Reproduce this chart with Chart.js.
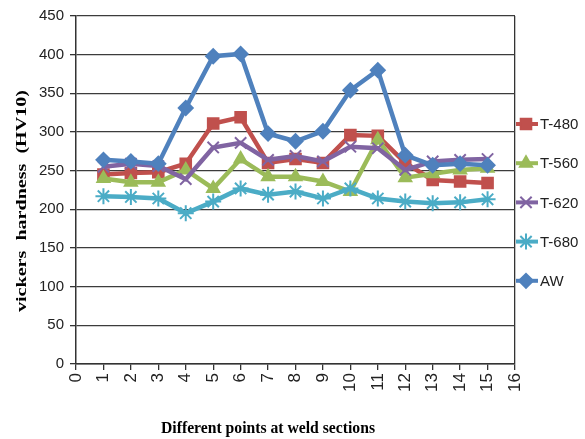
<!DOCTYPE html>
<html>
<head>
<meta charset="utf-8">
<script src="https://cdn.jsdelivr.net/npm/chart.js@4.4.1/dist/chart.umd.min.js"></script>
<style>
  html, body { margin: 0; padding: 0; background: #fff; }
</style>
</head>
<body>
<canvas id="hardnessChart" width="585" height="439"></canvas>
<script>
// hardness profile across the weld
const points = [1, 2, 3, 4, 5, 6, 7, 8, 9, 10, 11, 12, 13, 14, 15];
const t480 = [245, 247, 248, 259, 311, 319, 260, 265, 260, 296, 295, 260, 238, 236, 234];
const t560 = [240, 235, 235, 251, 227, 265, 242, 242, 236, 223, 290, 241, 246, 251, 253];
const t620 = [255, 259, 256, 239, 280, 286, 264, 269, 262, 281, 279, 251, 262, 264, 265];
const t680 = [217, 216, 214, 195, 210, 227, 219, 223, 214, 227, 214, 210, 208, 209, 213];
const aw   = [264, 262, 259, 331, 398, 401, 298, 288, 301, 354, 380, 270, 257, 259, 257];

const xTitle = 'Different points at weld sections';
const yTitle = 'vickers  hardness  (HV10)';

const tickFont = "'Liberation Sans Narrow', 'Liberation Sans', Arial, sans-serif";
const titleFont = "'Liberation Serif', 'Times New Roman', serif";

function series(label, values, color, style, radius) {
    return {
        label: label,
        data: points.map((p, i) => ({ x: p, y: values[i] })),
        borderColor: color,
        backgroundColor: color,
        pointBackgroundColor: color,
        pointBorderColor: color,
        pointStyle: style,
        pointRadius: radius,
        pointBorderWidth: 2,
        borderWidth: 4.5,
        tension: 0,
    };
}

// legend order as in the figure
const legendOrder = [
    series('T-480', t480, '#C0504D', 'rect', 7.5),
    series('T-560', t560, '#9BBB59', 'triangle', 7),
    series('T-620', t620, '#8064A2', 'crossRot', 8),
    series('T-680', t680, '#4BACC6', 'star', 8),
    series('AW', aw, '#4F81BD', 'rectRot', 7),
];

// Chart.js puts dataset 0 on top, AW sits on top in the figure
const datasets = legendOrder.slice().reverse();

// draws axis titles (squeezed like the original) and the right-hand legend
const decorations = {
    id: 'decorations',
    afterDraw(chart) {
        const ctx = chart.ctx;
        ctx.save();
        ctx.fillStyle = '#000';

        // x title
        ctx.font = 'bold 16px ' + titleFont;
        let w = ctx.measureText(xTitle).width;
        ctx.save();
        ctx.translate(268, 433);
        ctx.scale(214 / w, 1);
        ctx.textAlign = 'center';
        ctx.textBaseline = 'alphabetic';
        ctx.fillText(xTitle, 0, 0);
        ctx.restore();

        // y title
        ctx.font = 'bold 15px ' + titleFont;
        w = ctx.measureText(yTitle).width;
        ctx.save();
        ctx.translate(22, 201);
        ctx.rotate(-Math.PI / 2);
        ctx.scale(222 / w, 0.95);
        ctx.textAlign = 'center';
        ctx.textBaseline = 'middle';
        ctx.fillText(yTitle, 0, 0);
        ctx.restore();

        // legend
        const drawPoint = Chart.helpers && Chart.helpers.drawPoint;
        ctx.font = '15px ' + tickFont;
        ctx.textAlign = 'left';
        ctx.textBaseline = 'middle';
        legendOrder.forEach((ds, i) => {
            const y = 124 + i * 39.2;
            ctx.strokeStyle = ds.borderColor;
            ctx.fillStyle = ds.borderColor;
            ctx.lineWidth = 4;
            ctx.beginPath();
            ctx.moveTo(516, y);
            ctx.lineTo(538, y);
            ctx.stroke();
            if (drawPoint) {
                ctx.lineWidth = 2;
                drawPoint(ctx, { pointStyle: ds.pointStyle, radius: ds.pointRadius, rotation: 0, borderWidth: 2 }, 526, y);
            }
            ctx.fillStyle = '#222';
            ctx.fillText(ds.label, 540, y + 1);
        });
        ctx.restore();
    }
};

const chart = new Chart(document.getElementById('hardnessChart'), {
    type: 'line',
    data: { datasets: datasets },
    options: {
        responsive: false,
        animation: false,
        layout: { padding: { left: 0, right: 70, top: 16, bottom: 0 } },
        plugins: {
            legend: { display: false },
            tooltip: { enabled: false },
        },
        scales: {
            x: {
                type: 'linear',
                min: 0,
                max: 16,
                afterFit: (scale) => { scale.height = 75; },
                ticks: {
                    stepSize: 1,
                    minRotation: 90,
                    maxRotation: 90,
                    padding: 3,
                    color: '#222',
                    font: { family: tickFont, size: 17 },
                },
                grid: {
                    color: (c) => (c.tick && c.tick.value === 16 ? '#333' : 'rgba(0,0,0,0)'),
                    tickColor: '#333',
                    tickLength: 6,
                    lineWidth: 1.3,
                },
                border: { color: '#333', width: 1.5 },
            },
            y: {
                min: 0,
                max: 450,
                afterFit: (scale) => { scale.width = 76; },
                ticks: {
                    stepSize: 50,
                    padding: 6,
                    color: '#222',
                    font: { family: tickFont, size: 15 },
                },
                grid: {
                    color: '#3c3c3c',
                    tickColor: '#333',
                    tickLength: 6,
                    lineWidth: 1.3,
                },
                border: { color: '#333', width: 1.5 },
            },
        },
    },
    plugins: [decorations],
});
</script>
</body>
</html>
